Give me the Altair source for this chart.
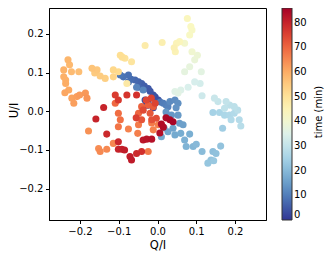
import altair as alt
import pandas as pd

q = [-0.024,-0.029,-0.011,-0.024,-0.032,-0.006,0.002,-0.011,-0.019,-0.024,-0.034,-0.041,-0.049,-0.049,-0.058,-0.068,-0.075,-0.075,-0.088,-0.096,0.007,0.015,0.022,0.027,
     -0.054,-0.037,0.032,0.045,0.053,0.048,0.022,0.036,0.053,0.057,0.066,0.040,0.017,0.027,0.010,0.045,0.060,
     0.083,0.070,0.074,0.092,0.100,0.115,0.143,0.151,0.163,0.138,0.130,0.145,0.168,0.143,0.160,0.173,0.186,0.190,0.198,0.211,0.215,0.207,0.198,0.186,0.173,0.177,0.156,0.147,0.115,
     0.110,0.096,0.079,0.060,0.045,0.053,0.070,0.083,0.113,0.096,0.103,0.089,
     0.070,0.089,0.083,0.086,0.077,0.057,0.049,0.046,0.043,0.012,-0.032,-0.079,
     -0.067,-0.084,-0.091,-0.096,-0.101,-0.114,-0.114,-0.135,-0.148,-0.162,-0.156,-0.169,
     -0.203,-0.222,-0.227,-0.231,-0.242,-0.242,-0.237,-0.237,-0.229,-0.239,-0.221,-0.216,-0.208,-0.201,-0.186,-0.182,
     -0.178,-0.152,-0.148,-0.131,-0.114,-0.075,-0.051,-0.049,-0.024,-0.011,0.002,-0.015,
     -0.101,-0.096,-0.101,-0.109,
     -0.049,-0.041,-0.024,-0.011,-0.019,-0.041,-0.015,-0.003,-0.037,-0.029,-0.016,-0.006,-0.055,
     -0.109,-0.101,-0.079,-0.054,-0.159,-0.139,-0.131,-0.101,-0.101,-0.092,-0.085,-0.071,-0.067,-0.054,-0.041,-0.037,-0.028,-0.015,
     0.010,0.022,0.032,0.040,0.015,0.006]
u = [0.016,0.016,0.009,0.021,0.029,0.037,0.029,0.042,0.052,0.059,0.065,0.072,0.076,0.062,0.081,0.083,0.094,0.076,0.089,0.094,0.024,0.021,0.016,0.012,
     0.062,0.055,0.025,0.029,0.021,0.009,-0.002,-0.010,-0.010,-0.031,-0.035,-0.044,-0.043,-0.053,-0.066,-0.061,-0.057,
     -0.059,-0.074,-0.091,-0.091,-0.085,-0.104,-0.104,-0.109,-0.090,-0.126,-0.134,-0.128,-0.044,-0.003,-0.003,-0.010,-0.010,-0.022,-0.005,-0.022,-0.038,0.003,0.012,0.016,0.008,0.025,0.025,0.034,0.040,
     0.072,0.076,0.062,0.055,0.051,0.047,0.102,0.115,0.102,0.133,0.145,0.154,
     0.176,0.210,0.197,0.219,0.240,0.180,0.176,0.154,0.164,0.178,0.170,0.072,
     0.128,0.137,0.140,0.145,0.102,0.107,0.089,0.085,0.091,0.099,0.107,0.111,
     0.102,0.102,0.120,0.133,0.107,0.089,0.081,0.072,0.055,0.048,0.034,0.021,0.038,0.042,0.047,0.034,
     -0.051,-0.096,-0.104,-0.098,-0.083,-0.046,-0.057,-0.035,-0.104,-0.048,-0.035,-0.030,
     -0.040,-0.022,-0.005,0.021,
     -0.005,0.012,0.016,0.012,-0.005,-0.022,-0.022,-0.018,0.003,0.029,0.034,0.021,-0.017,
     0.042,0.029,0.042,0.042,-0.020,0.010,-0.059,-0.079,-0.098,-0.098,-0.100,-0.117,-0.126,-0.109,-0.104,-0.074,-0.072,-0.072,
     -0.033,-0.017,-0.022,-0.027,-0.041,-0.056]
t = [1,1.5,2,2.5,3,3,3.5,4,4.5,5,5.5,6,6.5,7,7,7.5,8,8,8.5,9,9,10,10.5,11,
     11,11.5,12,12.5,13,13.5,14,14,14.5,15,15.5,16,16,16.5,17,17,17.5,
     18,18.5,19,19.5,20,20.5,21,21.5,22,22,22.5,23,24,25,25.5,26,26.5,27,27,27.5,28,28.5,29,29,29.5,30,30.5,31,32,
     33,33.5,34,35,35.5,36,37,37.5,36.5,38.5,39,40,
     41,42,42.5,43,43.5,44,44.5,45,45.5,46,47,48,
     49,50,50.5,51,52,52.5,53,54,54.5,55,55.5,56,
     57,57.5,58,58.5,59,59.5,59.5,60,60.5,61,61.5,62,62,62.5,63,63.5,
     64,64.5,65,65,65.5,66,66.5,67,67,66,66.5,67,
     68,68.5,69,69.5,
     70,70.5,71,71.5,72,72.5,73,73.5,74,74.5,75,75,75.5,
     76,76.5,77,77.5,80,80,79,79.5,80,80.5,81,81,81.5,79,78,82,82.5,83,
     84,84.5,85,85.5,84,83.5]

legend_title = ["time (min)"]

df = pd.DataFrame({"q": q, "u": u, "t": t}).sort_values("t", kind="stable")

ticks = [-0.2, -0.1, 0.0, 0.1, 0.2]
cticks = [0, 10, 20, 30, 40, 50, 60, 70, 80]
minus = "replace(format(datum.value, '.1f'), '-', '\u2212')"

points = alt.Chart(df).mark_circle(size=50, opacity=1).encode(
    x=alt.X("q:Q", title="Q/I",
            scale=alt.Scale(domain=[-0.28, 0.28], nice=False, zero=False),
            axis=alt.Axis(values=ticks, labelExpr=minus, grid=False,
                          titleX=108.5, titleY=25, titleBaseline="middle", titleAlign="center")),
    y=alt.Y("u:Q", title="U/I",
            scale=alt.Scale(domain=[-0.281, 0.267], nice=False, zero=False),
            axis=alt.Axis(values=ticks, labelExpr=minus, grid=False,
                          titleX=-35, titleY=102, titleAngle=270,
                          titleBaseline="middle", titleAlign="center")),
    color=alt.Color("t:Q",
                    scale=alt.Scale(scheme="redyellowblue", reverse=True, domain=[0, 86]),
                    legend=alt.Legend(title=None, values=cticks,
                                      gradientLength=212, gradientThickness=10,
                                      offset=16, labelBaseline="middle")),
)

ctitle = alt.Chart(pd.DataFrame({"label": legend_title})).mark_text(
    angle=270, align="center", baseline="middle", font="DejaVu Sans",
    fontSize=10, color="black"
).encode(text="label:N", x=alt.value(269.5), y=alt.value(104))

chart = alt.layer(points, ctitle).properties(
    width=217, height=212,
    autosize=alt.AutoSizeParams(type="none"),
    padding={"left": 41, "top": 0, "right": 58, "bottom": 34},
).configure_view(
    stroke="black", strokeWidth=1
).configure_axis(
    domainColor="black", tickColor="black", tickSize=3.5, labelColor="black",
    labelFont="DejaVu Sans", labelFontSize=10, titleFont="DejaVu Sans",
    titleFontSize=11.5, titleFontWeight="normal", titleColor="black",
    labelPadding=2.5
).configure_legend(
    labelFont="DejaVu Sans", labelFontSize=10, labelColor="black",
    gradientStrokeColor="#333", gradientStrokeWidth=1,
    labelOffset=6
)

chart.save("out.html", embed_options={"renderer": "svg", "actions": False})
